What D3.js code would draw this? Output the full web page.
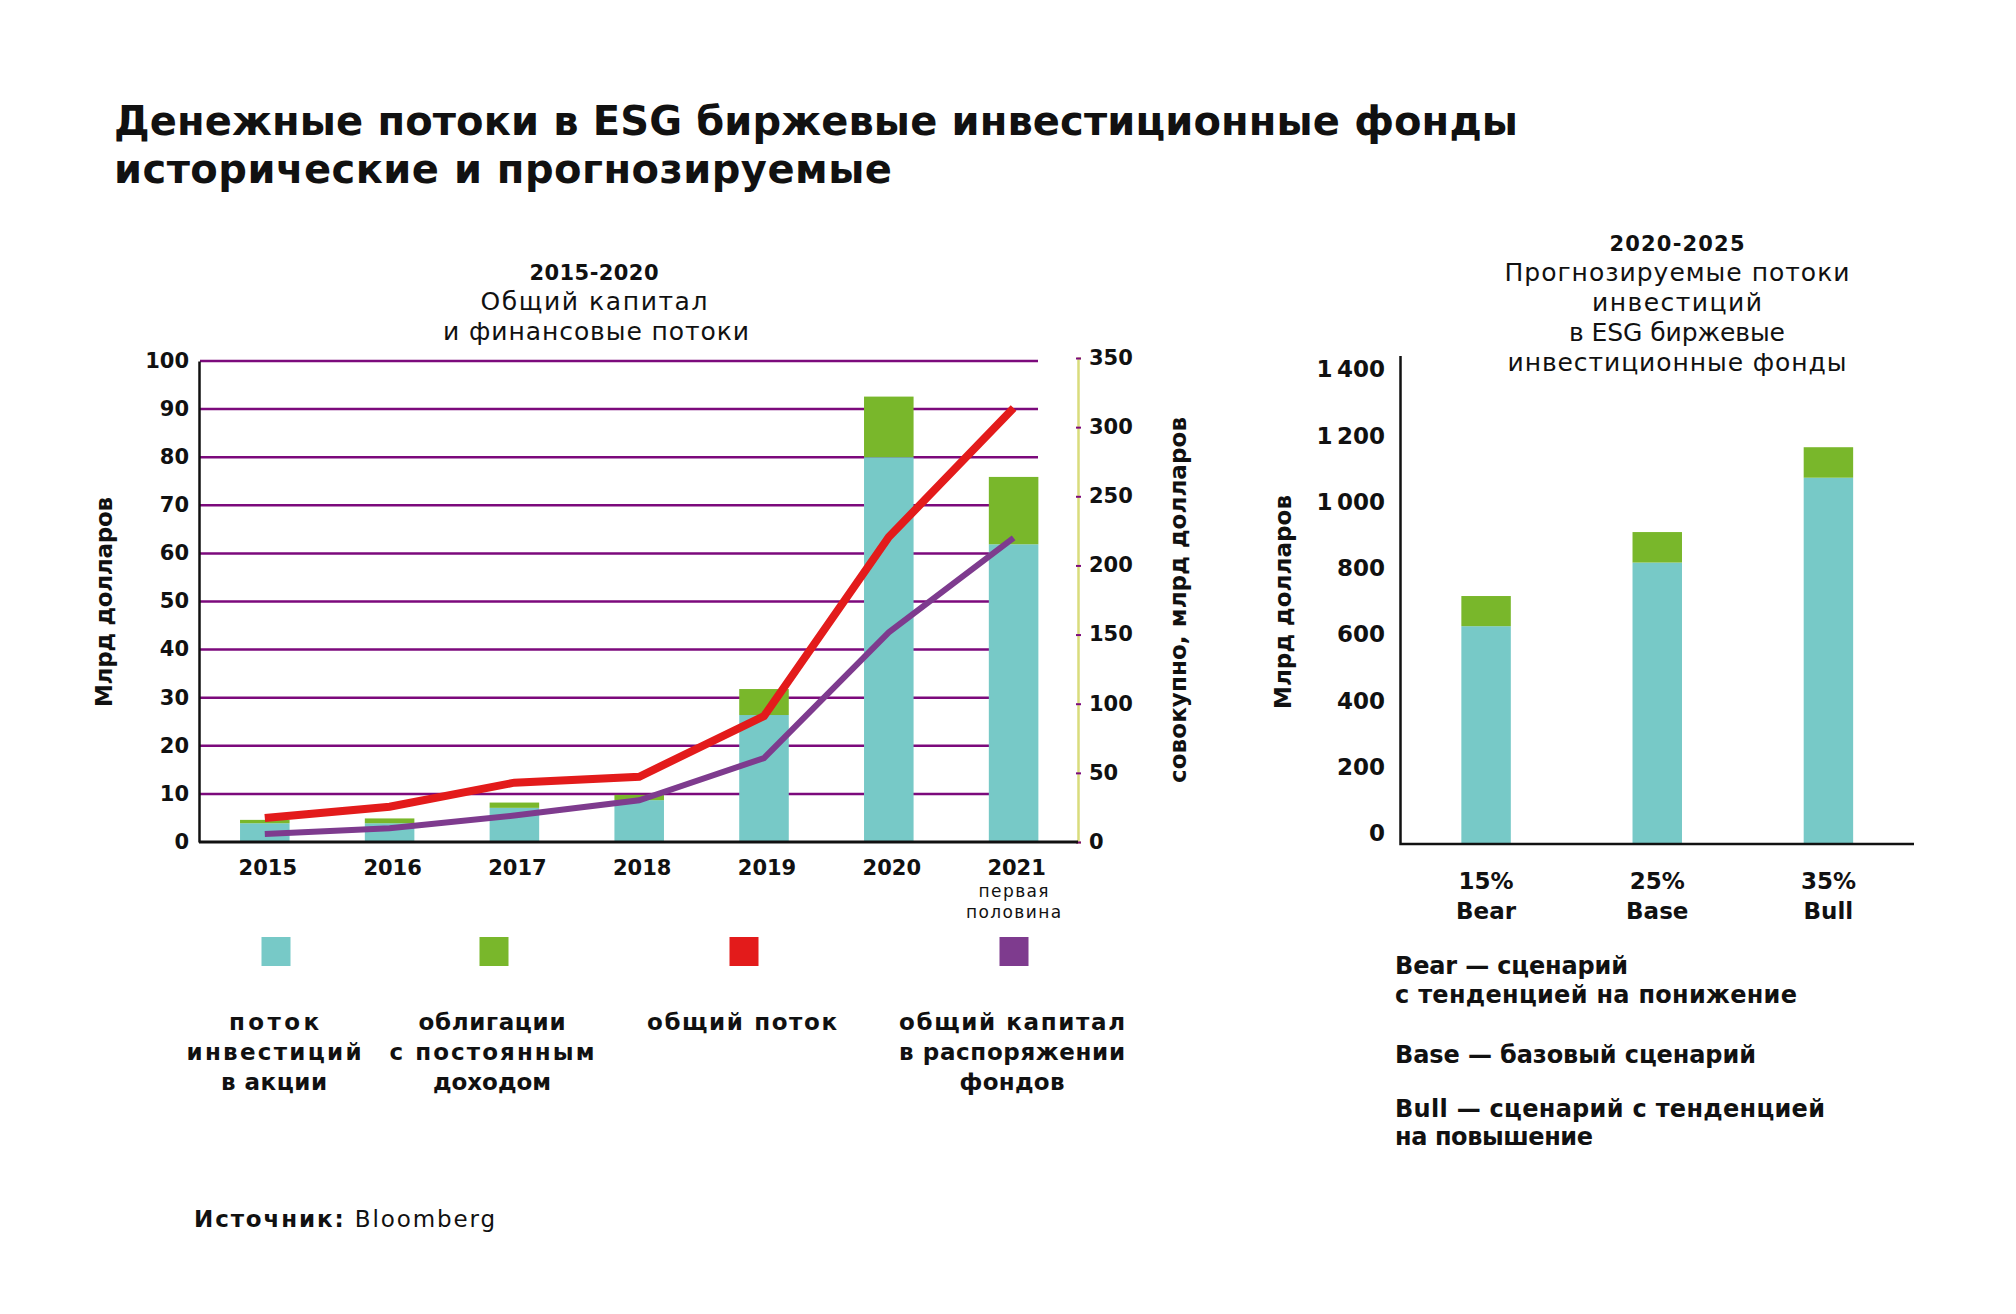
<!DOCTYPE html>
<html><head><meta charset="utf-8">
<script src="https://cdn.jsdelivr.net/npm/d3@7"></script>
<style>
html,body{margin:0;padding:0;background:#fff;}
svg{display:block;}
text{font-family:"DejaVu Sans",sans-serif;fill:#111;}
.b{font-weight:700;}
.r{font-weight:400;}
</style></head>
<body>
<svg id="c" width="2016" height="1314"></svg>
<script>
// ---------- DATA ----------
const years = ["2015","2016","2017","2018","2019","2020","2021"];
const equityFlows = [3.9, 3.9, 7.1, 8.7, 26.4, 80.0, 61.9];        // млрд $, left axis
const fixedIncomeFlows = [0.7, 1.0, 1.1, 1.1, 5.4, 12.6, 14.0];     // млрд $, left axis
const totalFlowLine = [17.4, 25.5, 42.9, 47.2, 91.1, 220.5, 313.8]; // right axis
const totalAssetsLine = [5.8, 9.9, 19.1, 30.2, 60.7, 151.6, 220.0]; // right axis
const leftTicks = [0,10,20,30,40,50,60,70,80,90,100];
const rightTicks = [0,50,100,150,200,250,300,350];

const scenarios = ["Bear","Base","Bull"];
const scenarioPct = ["15%","25%","35%"];
const scenarioEquity = [624, 816, 1072];
const scenarioFixed = [91, 92, 92];
const scenarioTicks = [0,200,400,600,800,1000,1200,1400];

const legendItems = [
  {color:"#77c9c7", lines:["поток","инвестиций","в акции"]},
  {color:"#79b72b", lines:["облигации","с постоянным","доходом"]},
  {color:"#e31b1b", lines:["общий поток"]},
  {color:"#7e3b8e", lines:["общий капитал","в распоряжении","фондов"]}
];
const notes = [
  ["Bear — сценарий","с тенденцией на понижение"],
  ["Base — базовый сценарий"],
  ["Bull — сценарий с тенденцией","на повышение"]
];

// ---------- STYLE ----------
const C = {teal:"#77c9c7", green:"#79b72b", red:"#e31b1b", purple:"#7e3b8e",
           grid:"#7c0a7c", raxis:"#d9dc7c"};
const svg = d3.select("#c");

function txt(x, y, s, cls, size, anchor, w){
  const t = svg.append("text").attr("x",x).attr("y",y).attr("class",cls)
     .attr("font-size",size).attr("text-anchor",anchor||"start").text(s);
  if (w) t.attr("textLength",w).attr("lengthAdjust","spacing");
  return t;
}

// ---------- TITLE ----------
txt(114,135,"Денежные потоки в ESG биржевые инвестиционные фонды","b",40,"start",1404);
txt(114,183,"исторические и прогнозируемые","b",40,"start",778);

// ---------- LEFT CHART ----------
const x = d3.scaleBand().domain(years).range([202.4,1076]).paddingInner(0.603).paddingOuter(0.3015);
const yL = d3.scaleLinear().domain([0,100]).range([842,361]);
const yR = d3.scaleLinear().domain([0,350]).range([842,358]);

txt(594,280,"2015-2020","b",21,"middle",129);
txt(594,310,"Общий капитал","r",25,"middle",227);
txt(596,340,"и финансовые потоки","r",25,"middle",306);

// gridlines
svg.append("g").selectAll("line").data(leftTicks.filter(d=>d>0)).join("line")
  .attr("x1",200).attr("x2",1038).attr("y1",d=>yL(d)).attr("y2",d=>yL(d))
  .attr("stroke",C.grid).attr("stroke-width",2.5);

// stacked bars
const gB = svg.append("g");
years.forEach((yr,i)=>{
  gB.append("rect").attr("x",x(yr)).attr("width",x.bandwidth())
    .attr("y",yL(equityFlows[i])).attr("height",yL(0)-yL(equityFlows[i])).attr("fill",C.teal);
  const top = equityFlows[i]+fixedIncomeFlows[i];
  gB.append("rect").attr("x",x(yr)).attr("width",x.bandwidth())
    .attr("y",yL(top)).attr("height",yL(equityFlows[i])-yL(top)).attr("fill",C.green);
});

// lines
const lineGen = d3.line().x((d,i)=>x(years[i])+x.bandwidth()/2).y(d=>yR(d));
svg.append("path").attr("d",lineGen(totalAssetsLine)).attr("fill","none")
  .attr("stroke",C.purple).attr("stroke-width",6).attr("stroke-linejoin","miter");
svg.append("path").attr("d",lineGen(totalFlowLine)).attr("fill","none")
  .attr("stroke",C.red).attr("stroke-width",8).attr("stroke-linejoin","miter");

// left axis
const axL = svg.append("g").attr("transform","translate(199,0)")
  .call(d3.axisLeft(yL).tickValues(leftTicks).tickSize(0).tickPadding(10));
axL.select(".domain").attr("stroke","#111").attr("stroke-width",2.5);
axL.selectAll("text").attr("class","b").attr("font-size",21).attr("font-family","DejaVu Sans").attr("fill","#111").attr("dy","0.3em");

// right axis
const axR = svg.append("g").attr("transform","translate(1078,0)")
  .call(d3.axisRight(yR).tickValues(rightTicks).tickSize(3).tickPadding(8));
axR.select(".domain").attr("stroke",C.raxis).attr("stroke-width",2.5);
axR.selectAll(".tick line").attr("stroke",C.grid).attr("stroke-width",2).attr("x1",-2);
axR.selectAll("text").attr("class","b").attr("font-size",21).attr("font-family","DejaVu Sans").attr("fill","#111").attr("dy","0.3em");

// bottom axis
const axB = svg.append("g").attr("transform","translate(0,842)")
  .call(d3.axisBottom(x).tickSize(0).tickPadding(14));
axB.select(".domain").attr("d","M199,0H1078").attr("stroke","#111").attr("stroke-width",3);
axB.selectAll("text").attr("class","b").attr("font-size",21).attr("font-family","DejaVu Sans").attr("fill","#111").attr("dy","0.9em").attr("dx",3);

txt(x("2021")+x.bandwidth()/2,897,"первая","r",17,"middle",70);
txt(x("2021")+x.bandwidth()/2,918,"половина","r",17,"middle",95);

// axis titles
svg.append("text").attr("class","b").attr("font-size",23).attr("text-anchor","middle")
  .attr("transform","translate(112,602) rotate(-90)").attr("textLength",210).attr("lengthAdjust","spacing").text("Млрд долларов");
svg.append("text").attr("class","b").attr("font-size",23).attr("text-anchor","middle")
  .attr("transform","translate(1186,600) rotate(-90)").attr("textLength",366).attr("lengthAdjust","spacing").text("совокупно, млрд долларов");

// legend
const legX = [276, 494, 744, 1014];
const legW = [[90,175,106],[147,205,118],[190],[226,226,105]];
legendItems.forEach((it,i)=>{
  svg.append("rect").attr("x",legX[i]-14.5).attr("y",937).attr("width",29).attr("height",29).attr("fill",it.color);
  it.lines.forEach((ln,j)=>{
    txt(legX[i]-2, 1030+j*30, ln, "b", 23, "middle", legW[i][j]);
  });
});

// source
const src = svg.append("text").attr("x",194).attr("y",1227).attr("font-size",23)
  .attr("textLength",301).attr("lengthAdjust","spacing");
src.append("tspan").attr("class","b").text("Источник:");
src.append("tspan").attr("class","r").text(" Bloomberg");

// ---------- RIGHT CHART ----------
txt(1677,251,"2020-2025","b",21,"middle",135);
const rt = ["Прогнозируемые потоки","инвестиций","в ESG биржевые","инвестиционные фонды"];
const rtw = [345,170,216,339];
rt.forEach((s,i)=>txt(1677,281+i*30,s,"r",25,"middle",rtw[i]));

const x2 = d3.scaleBand().domain(scenarios).range([1400.5,1914]).paddingInner(0.711).paddingOuter(0.3555);
const y2 = d3.scaleLinear().domain([0,1400]).range([833,369]);
const base2 = 844;

scenarios.forEach((s,i)=>{
  svg.append("rect").attr("x",x2(s)).attr("width",x2.bandwidth())
    .attr("y",y2(scenarioEquity[i])).attr("height",base2-y2(scenarioEquity[i])).attr("fill",C.teal);
  const top = scenarioEquity[i]+scenarioFixed[i];
  svg.append("rect").attr("x",x2(s)).attr("width",x2.bandwidth())
    .attr("y",y2(top)).attr("height",y2(scenarioEquity[i])-y2(top)).attr("fill",C.green);
});

const fmt = d => d>=1000 ? d3.format(",")(d).replace(",","\u2009") : String(d);
svg.append("g").selectAll("text").data(scenarioTicks).join("text")
  .attr("x",1385).attr("y",d=>y2(d)).attr("dy","0.36em").attr("text-anchor","end")
  .attr("class","b").attr("font-size",23).text(d=>fmt(d));

svg.append("path").attr("d","M1400.5,356V844H1914").attr("fill","none").attr("stroke","#111").attr("stroke-width",2.5);

scenarios.forEach((s,i)=>{
  const cx = x2(s)+x2.bandwidth()/2;
  txt(cx,889,scenarioPct[i],"b",23,"middle");
  txt(cx,919,s,"b",23,"middle");
});

svg.append("text").attr("class","b").attr("font-size",23).attr("text-anchor","middle")
  .attr("transform","translate(1291,602) rotate(-90)").attr("textLength",214).attr("lengthAdjust","spacing").text("Млрд долларов");

// notes
const noteY = [[974,1003],[1063],[1117,1145]];
const noteW = [[233,402],[361],[430,198]];
notes.forEach((grp,i)=>grp.forEach((ln,j)=>txt(1395,noteY[i][j],ln,"b",24,"start",noteW[i][j])));
</script>
</body></html>
